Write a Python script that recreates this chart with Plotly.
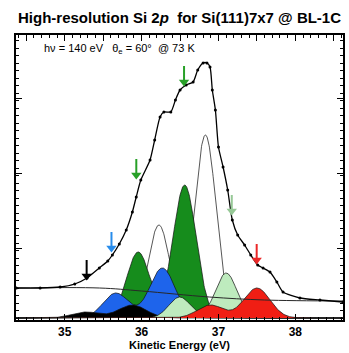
import numpy as np
import plotly.graph_objects as go

# ---- measured spectrum (kinetic energy eV, intensity arb. units) ----
ke_data = [34.37, 34.68, 34.94, 35.13, 35.29, 35.45, 35.56, 35.62, 35.71, 35.80,
           35.88, 35.93, 35.99, 36.11, 36.17, 36.24, 36.29, 36.38, 36.44, 36.50,
           36.58, 36.67, 36.73, 36.80, 36.85, 36.89, 36.92, 36.96, 37.00, 37.06,
           37.12, 37.18, 37.25, 37.34, 37.42, 37.51, 37.58, 37.67, 37.76, 37.84,
           38.06, 38.32, 38.62]
int_data = [30, 30, 31, 34, 40, 50, 57, 63, 74, 88,
            106, 121, 138, 158, 178, 201, 206, 206, 218, 228,
            233, 236, 248, 255, 255, 251, 228, 208, 171, 151,
            128, 98, 83, 73, 63, 53, 50, 46, 36, 26,
            20, 18, 16]

# ---- background ----
ke_bg = [34.37, 35.45, 36.0, 36.88, 37.6, 38.62]
int_bg = [30, 30, 27, 21, 18, 17]

# ---- fitted components (2p3/2 position, heights of 2p3/2 and 2p1/2, gaussian sigma) ----
comp_names = ["bulk", "S2", "S1", "S0", "S3", "S4"]
comp_pos = [36.83, 36.56, 36.27, 35.88, 37.10, 37.50]
comp_h32 = [183, 133, 50, 13, 45, 30]
comp_h12 = [93, 66, 25, 6, 21, 13]
comp_sigma = [0.14, 0.15, 0.165, 0.18, 0.14, 0.17]
comp_fill = ["rgba(255,255,255,1)", "rgb(22,140,28)", "rgb(30,100,235)",
             "rgb(0,0,0)", "rgb(190,235,190)", "rgb(240,30,20)"]
so_split = 0.605

# ---- arrows (tip positions) ----
arrow_ke = [35.285, 35.608, 35.931, 36.552, 37.173, 37.497]
arrow_int = [38, 66, 139, 232, 103, 54]
arrow_col = ["rgb(0,0,0)", "rgb(40,140,235)", "rgb(40,160,40)", "rgb(40,160,40)",
             "rgb(150,200,150)", "rgb(235,40,40)"]

XR = [34.366, 38.62]
YR = [-2, 283]

x = np.linspace(XR[0], XR[1], 900)
fig = go.Figure()

for i in range(len(comp_names)):
    s = comp_sigma[i]
    y = (comp_h32[i] * np.exp(-(x - comp_pos[i]) ** 2 / (2 * s * s)) +
         comp_h12[i] * np.exp(-(x - (comp_pos[i] - so_split)) ** 2 / (2 * s * s)))
    fig.add_trace(go.Scatter(x=x, y=y, mode="lines", fill="tozeroy",
                             fillcolor=comp_fill[i],
                             line=dict(color="rgba(20,20,20,0.9)", width=0.8),
                             name=comp_names[i], hoverinfo="skip"))

fig.add_trace(go.Scatter(x=ke_bg, y=int_bg, mode="lines",
                         line=dict(color="rgb(40,40,40)", width=1, shape="spline"),
                         hoverinfo="skip"))
fig.add_trace(go.Scatter(x=ke_data, y=int_data, mode="lines+markers",
                         line=dict(color="black", width=1.3, shape="spline", smoothing=0.6),
                         marker=dict(color="black", size=3),
                         hoverinfo="skip"))

# arrows: stem + triangular head
for xa, ya, c in zip(arrow_ke, arrow_int, arrow_col):
    fig.add_trace(go.Scatter(x=[xa, xa], y=[ya + 6, ya + 20], mode="lines",
                             line=dict(color=c, width=2), hoverinfo="skip"))
    fig.add_trace(go.Scatter(x=[xa], y=[ya + 4], mode="markers",
                             marker=dict(symbol="triangle-down", size=9, color=c),
                             hoverinfo="skip"))

# invisible trace to hold the mirrored top/right axes
fig.add_trace(go.Scatter(x=XR, y=YR, xaxis="x2", yaxis="y2", mode="markers",
                         marker=dict(opacity=0), hoverinfo="skip"))

fig.add_annotation(xref="paper", yref="paper", x=0.5, y=1.06, xanchor="center",
                   yanchor="middle", showarrow=False,
                   text="<b>High-resolution Si 2<i>p</i>  for Si(111)7x7 @ BL-1C</b>",
                   font=dict(family="Liberation Sans, Arial", size=15, color="black"))
fig.add_annotation(xref="paper", yref="paper", x=0.079, y=0.951, xanchor="left",
                   yanchor="middle", showarrow=False,
                   text="hν = 140 eV   θ<sub>e</sub> = 60°  @ 73 K",
                   font=dict(family="Liberation Sans, Arial", size=11, color="black"))

fig.update_layout(
    width=349, height=353,
    margin=dict(l=16, r=4, t=35, b=33),
    paper_bgcolor="white", plot_bgcolor="white",
    showlegend=False,
    font=dict(family="Liberation Sans, Arial", color="black"),
    xaxis2=dict(overlaying="x", side="top", anchor="y", range=XR, showgrid=False,
                zeroline=False, showticklabels=False, ticks="inside", ticklen=6,
                tickcolor="black", dtick=0.5, tick0=35,
                minor=dict(dtick=0.1, ticks="inside", ticklen=3, tickcolor="black")),
    yaxis2=dict(overlaying="y", side="right", anchor="x", range=YR, showgrid=False,
                zeroline=False, showticklabels=False, ticks="inside", ticklen=6,
                tickcolor="black", dtick=75, tick0=-5,
                minor=dict(dtick=7.5, ticks="inside", ticklen=3, tickcolor="black")),
)
fig.update_xaxes(selector=dict(anchor="y", side="bottom"))
fig.update_layout(xaxis=dict(range=XR, showgrid=False, zeroline=False,
                 showline=True, linecolor="black", linewidth=1.5, mirror=True,
                 ticks="inside", ticklen=6, tickwidth=1, tickcolor="black",
                 dtick=1, tick0=35,
                 minor=dict(dtick=0.1, ticks="inside", ticklen=3, tickcolor="black"),
                 tickfont=dict(size=12, family="Liberation Sans, Arial", weight="bold"),
                 title=dict(text="Kinetic Energy (eV)",
                            font=dict(size=11, weight="bold"), standoff=1)),
                  yaxis=dict(range=YR, showgrid=False, zeroline=False,
                 showline=True, linecolor="black", linewidth=1.5, mirror=True,
                 ticks="inside", ticklen=6, tickwidth=1, tickcolor="black",
                 dtick=75, tick0=-5, showticklabels=False,
                 minor=dict(dtick=7.5, ticks="inside", ticklen=3, tickcolor="black")))

fig.write_html("out.html")
